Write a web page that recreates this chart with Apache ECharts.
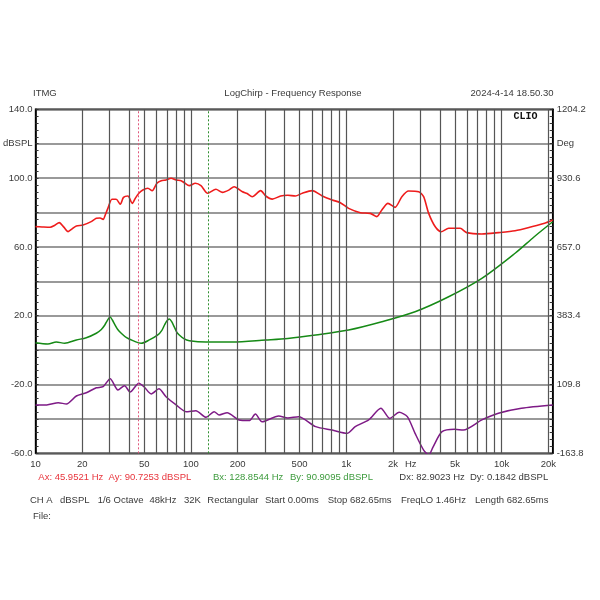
<!DOCTYPE html>
<html><head><meta charset="utf-8">
<script src="https://cdn.jsdelivr.net/npm/echarts@6/dist/echarts.min.js"></script>
<style>html,body{margin:0;padding:0;background:#fff}#c{width:600px;height:600px}</style>
</head><body><div id="c"></div>
<script>
// ---- data ----
const FMIN = 10, FMAX = 21300;
const redFreq = [10,11,12.4,13.3,14.2,15.2,16.2,17.2,18.3,20.2,22.8,24.6,26,27.2,28.2,29.2,31,33,35.1,36.8,39.3,41.9,44,46.2,49,52.8,56.3,60.4,64.4,69.1,74.5,80.3,86.5,90.6,97.6,106.7,116,128,144.8,159.6,175,189.6,214.6,230,248,281,303,334,378,420,470,521,603,700,811,915,1035,1232,1425,1573,1693,1853,2058,2278,2518,2922,3145,3389,3737,4080,4557,5405,5955,7450,9530,12200,15600,18900,21300];
const redDb   = [71.8,71.6,71.4,72.6,74.1,71.5,68.9,70.5,72.2,72.7,74.7,76.6,76.8,76,79,82.4,87.7,87.7,84.8,88.8,89.6,85.3,88.5,91.2,93.1,94.1,92.7,97,98.5,98.9,99.9,98.9,98.5,97.3,95.6,97,95.6,91.2,93.5,91.7,93,95,92.1,91,89.2,92.7,89.6,87.8,89.6,90,89.6,91.2,92.7,89.6,87.3,85.7,82.4,79.9,79.5,77.6,81.5,85.3,83,89.2,92.5,92.1,89.2,79.5,71.7,68.8,70.8,70.8,68.3,67.5,68.3,69.4,71.7,73.7,75.6];
const greenFreq = [10,12,13.6,15.4,18.3,21.2,24.6,26.5,27.9,29,30.2,31.2,32.3,33.8,35.6,38.5,42.3,47.8,54,61.2,65,67.6,70,72.6,75,78.1,81,84.1,90,97.6,125,185,303,420,635,1035,1693,2770,4557,7450,12200,16200,21300];
const greenDb   = [4.3,3.6,4.7,4,5.9,7.2,9.8,12,14.6,17.3,19.2,17.5,15,12,9.8,7.2,5.5,4,5.9,8.8,11.5,14.6,17,18.1,16.7,13.5,10.5,8.8,6.7,5.5,4.7,4.7,5.9,6.8,8.8,11.7,16.5,22.3,31,41.7,56.3,65.9,74.6];
const purpleFreq = [10,11.8,14,15.8,18.3,21.2,24.6,27.2,30.2,33.9,37.4,40.6,46.2,50.2,55.5,62.2,69.1,80.3,93,107.5,125,141,152,171,204,237,260,287,367,420,493,635,811,1013,1141,1393,1668,1905,2190,2470,2770,3145,3389,3621,4130,4987,5660,7450,9530,13400,21300];
const purpleDb   = [-31.9,-31.9,-30.6,-31.3,-26.7,-24.8,-21.9,-21.3,-16.6,-23.2,-20.7,-24.4,-19.3,-21.6,-25.5,-22.5,-27.1,-31.9,-35.8,-35.2,-39.1,-35.8,-37.7,-36.4,-40.6,-41,-37.2,-41.7,-38.3,-39.5,-38.7,-44.5,-46.5,-48.4,-44.5,-40.6,-33.8,-39.7,-36.2,-38.7,-48.4,-58.1,-61,-56.2,-47.4,-46,-46.5,-40.6,-36.7,-33.8,-31.9];
const gridFreqs = [20,30,40,50,60,70,80,90,100,200,300,400,500,600,700,800,900,1000,2000,3000,4000,5000,6000,7000,8000,9000,10000,20000];
const xTickFreqs  = [10,20,50,100,200,500,1000,2000,2600,5000,10000,20000];
const xTickLabels = ['10','20','50','100','200','500','1k','2k','Hz','5k','10k','20k'];
const leftTickVals   = [140,120,100,60,20,-20,-60];
const leftTickLabels = ['140.0','dBSPL','100.0','60.0','20.0','-20.0','-60.0'];
const rightTickLabels = ['1204.2','Deg','930.6','657.0','383.4','109.8','-163.8'];
const cursorA = 45.9521, cursorB = 128.8544;

const pairs = (f, v) => f.map((x, i) => [x, v[i]]);
const FONT = '"Liberation Sans", Arial, sans-serif';
const gray = '#3a3a3a';

const chart = echarts.init(document.getElementById('c'), null, {renderer: 'canvas'});
const yLabel = (labels) => (v) => { const i = leftTickVals.indexOf(Math.round(v)); return i >= 0 ? labels[i] : ''; };

chart.setOption({
  animation: false,
  backgroundColor: '#fff',
  grid: {left: 32.7, right: 47.3, top: 109.3, bottom: 146.7, show: true, borderColor: '#000', borderWidth: 1.5, backgroundColor: 'transparent'},
  xAxis: [
    {type: 'log', logBase: 10, min: FMIN, max: FMAX, position: 'top', show: false, splitLine: {show: false}},
    {type: 'value', min: Math.log10(FMIN), max: Math.log10(FMAX), position: 'bottom',
     axisLine: {show: false}, axisTick: {show: false}, splitLine: {show: false},
     axisLabel: {customValues: xTickFreqs.map(Math.log10), margin: 6, color: gray, fontSize: 9.5, fontFamily: FONT,
       formatter: (v) => { const i = xTickFreqs.findIndex(f => Math.abs(Math.log10(f) - v) < 1e-6); return i >= 0 ? xTickLabels[i] : ''; }}}
  ],
  yAxis: [
    {type: 'value', min: -60, max: 140, interval: 20, position: 'left',
     axisLine: {show: true, lineStyle: {color: '#000', width: 1.5}},
     axisTick: {show: true, inside: true, length: 3, lineStyle: {color: '#333'}},
     minorTick: {show: true, splitNumber: 5, length: 3, lineStyle: {color: '#333'}},
     splitLine: {show: true, lineStyle: {color: '#777', width: 1.5}},
     axisLabel: {formatter: yLabel(leftTickLabels), margin: 3, color: gray, fontSize: 9.5, fontFamily: FONT}},
    {type: 'value', min: -60, max: 140, interval: 20, position: 'right',
     axisLine: {show: true, lineStyle: {color: '#000', width: 1.5}},
     axisTick: {show: true, inside: true, length: 3, lineStyle: {color: '#333'}},
     minorTick: {show: true, splitNumber: 5, length: 3, lineStyle: {color: '#333'}},
     splitLine: {show: false},
     axisLabel: {formatter: yLabel(rightTickLabels), margin: 4, color: gray, fontSize: 9.5, fontFamily: FONT}}
  ],
  series: [
    {type: 'line', name: 'grid', xAxisIndex: 0, yAxisIndex: 0, z: 1, silent: true, showSymbol: false,
     data: [[FMIN, -1000]], lineStyle: {width: 0},
     markLine: {silent: true, symbol: ['none', 'none'], label: {show: false}, animation: false,
       lineStyle: {type: 'solid', color: '#555', width: 1.2},
       data: gridFreqs.map(f => ({xAxis: f}))}},
    {type: 'line', name: 'red', xAxisIndex: 0, yAxisIndex: 0, z: 4, showSymbol: false, smooth: 0.25,
     data: pairs(redFreq, redDb), lineStyle: {color: '#ee1c1c', width: 1.6}, itemStyle: {color: '#ee1c1c'},
     markLine: {silent: true, symbol: ['none', 'none'], label: {show: false}, animation: false,
       lineStyle: {type: [2, 2], color: '#e0587c', width: 1}, data: [{xAxis: cursorA}]}},
    {type: 'line', name: 'green', xAxisIndex: 0, yAxisIndex: 0, z: 3, showSymbol: false, smooth: 0.3,
     data: pairs(greenFreq, greenDb), lineStyle: {color: '#168a16', width: 1.5}, itemStyle: {color: '#168a16'},
     markLine: {silent: true, symbol: ['none', 'none'], label: {show: false}, animation: false,
       lineStyle: {type: [2, 2], color: '#2f8f2f', width: 1}, data: [{xAxis: cursorB}]}},
    {type: 'line', name: 'purple', xAxisIndex: 0, yAxisIndex: 0, z: 3, showSymbol: false, smooth: 0.25,
     data: pairs(purpleFreq, purpleDb), lineStyle: {color: '#7e1a86', width: 1.5}, itemStyle: {color: '#7e1a86'}}
  ],
  graphic: (function () {
    const t = (x, y, text, color, align, font) => ({type: 'text', x, y, silent: true,
      style: {text, fill: color, font: font || ('9.5px ' + FONT), textAlign: align || 'left', align: align || 'left', textVerticalAlign: 'middle', verticalAlign: 'middle'}});
    const red = '#e8343c', grn = '#3d9b3d';
    return [
      t(33, 93, 'ITMG', gray),
      t(293, 93, 'LogChirp - Frequency Response', gray, 'center'),
      t(553.5, 93, '2024-4-14 18.50.30', gray, 'right'),
      t(537.5, 116, 'CLIO', '#111', 'right', 'bold 10px "Liberation Mono", "Courier New", monospace'),
      t(38.3, 477.3, 'Ax: 45.9521 Hz', red),
      t(108.5, 477.3, 'Ay: 90.7253 dBSPL', red),
      t(213, 477.3, 'Bx: 128.8544 Hz', grn),
      t(290, 477.3, 'By: 90.9095 dBSPL', grn),
      t(399.3, 477.3, 'Dx: 82.9023 Hz', gray),
      t(470, 477.3, 'Dy: 0.1842 dBSPL', gray),
      t(30, 500, 'CH A', gray),
      t(60, 500, 'dBSPL', gray),
      t(97.7, 500, '1/6 Octave', gray),
      t(149.5, 500, '48kHz', gray),
      t(184, 500, '32K', gray),
      t(207.3, 500, 'Rectangular', gray),
      t(265, 500, 'Start 0.00ms', gray),
      t(327.7, 500, 'Stop 682.65ms', gray),
      t(401, 500, 'FreqLO 1.46Hz', gray),
      t(475, 500, 'Length 682.65ms', gray),
      t(33, 516.5, 'File:', gray)
    ];
  })()
});
</script>
</body></html>
